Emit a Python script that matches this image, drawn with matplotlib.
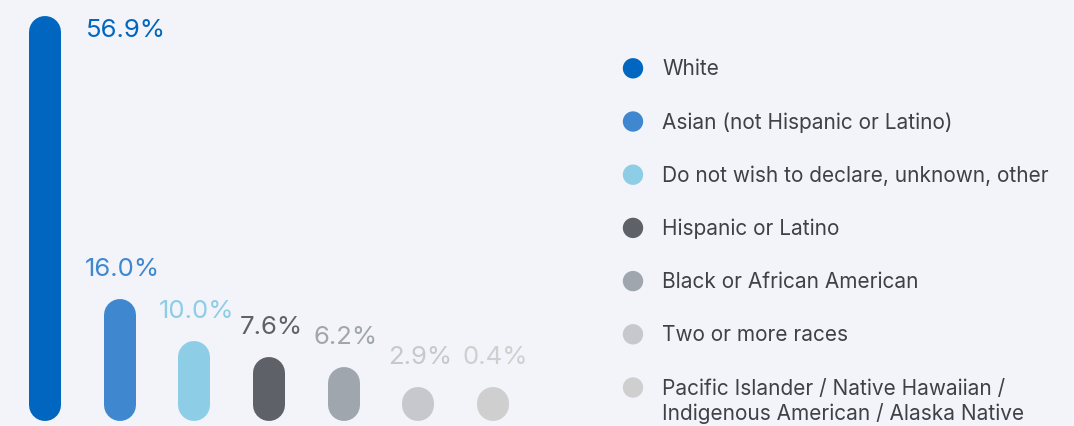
import matplotlib
matplotlib.use('Agg')
import matplotlib.pyplot as plt

categories = ["White",
              "Asian (not Hispanic or Latino)",
              "Do not wish to declare, unknown, other",
              "Hispanic or Latino",
              "Black or African American",
              "Two or more races",
              "Pacific Islander / Native Hawaiian /\nIndigenous American / Alaska Native"]
values = [56.9, 16.0, 10.0, 7.6, 6.2, 2.9, 0.4]
labels = ["56.9%", "16.0%", "10.0%", "7.6%", "6.2%", "2.9%", "0.4%"]
colors = ["#0066bf", "#3f88cf", "#8dcde6", "#5e6167", "#a0a6ae", "#c6c8cd", "#cfcfcf"]

bg = "#f3f4fa"
text_color = "#3e4147"
plt.rcParams['font.family'] = ['Inter', 'DejaVu Sans']

W, H = 1074, 427
fig = plt.figure(figsize=(W / 100, H / 100), dpi=100)
fig.patch.set_facecolor(bg)

# bar area: left part of the figure
ax = fig.add_axes([0, 0, 540 / W, 1])
ax.set_facecolor(bg)
ax.set_xlim(-0.607, 6.631)
ax.set_ylim(-2.33, 59.38)
ax.axis('off')

base = -1.6       # bars start a little below zero
min_top = 3.3     # small bars are drawn as circles
bar_px = 32       # bar width in pixels

# pill shaped bars: thick lines with round caps
px_y = (59.38 + 2.33) / H
r = bar_px / 2 * px_y
tops = [max(v, min_top) for v in values]
for i, (t, c) in enumerate(zip(tops, colors)):
    ax.plot([i, i], [base + r, t - r], color=c, lw=bar_px * 0.72,
            solid_capstyle='round')

bar_w = bar_px * (6.631 + 0.607) / 540
for i, (t, lab, c) in enumerate(zip(tops, labels, colors)):
    if i == 0:
        ax.annotate(lab, (i + bar_w / 2, t), xytext=(17.5, -14), textcoords='offset points',
                    ha='left', va='baseline', fontsize=18.5, color=c)
    else:
        ax.annotate(lab, (i, t), xytext=(1.5, 17.3), textcoords='offset points',
                    ha='center', va='baseline', fontsize=18.5, color=c)

# legend on the right, in pixel layout
lax = fig.add_axes([0, 0, 1, 1])
lax.set_xlim(0, W)
lax.set_ylim(H, 0)
lax.axis('off')
lax.patch.set_alpha(0)

row0, step = 69.3, 53.2
for i, (cat, c) in enumerate(zip(categories, colors)):
    y = row0 + step * i
    lax.scatter([633], [y], s=215, color=c, edgecolors='none')
    ty = y + 13 if '\n' in cat else y
    lax.text(662, ty, cat, ha='left', va='center',
             fontsize=15, color=text_color, linespacing=1.25)

fig.savefig("out.png", dpi=100, facecolor=bg)
